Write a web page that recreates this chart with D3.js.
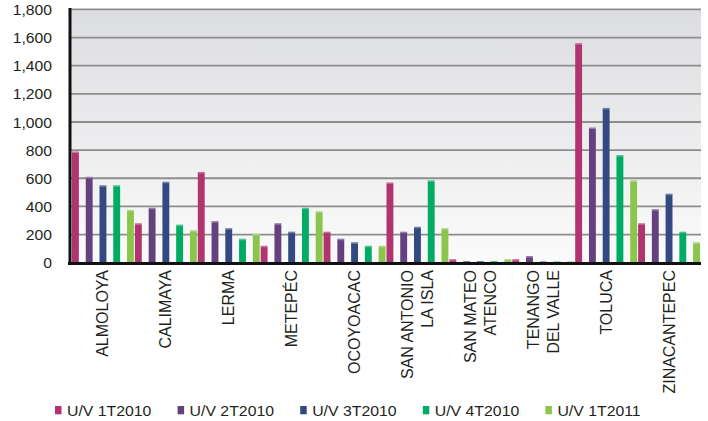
<!DOCTYPE html>
<html>
<head>
<meta charset="utf-8">
<script src="https://cdn.jsdelivr.net/npm/d3@7"></script>
<style>
  html, body { margin: 0; padding: 0; background: #fff; }
  svg { display: block; }
  text { font-family: "Liberation Sans", Arial, sans-serif; fill: #231f20; }
</style>
</head>
<body>
<svg id="chart" width="708" height="421"></svg>
<script>
// Municipalities (line breaks mark two-line labels)
const categories = [
  "ALMOLOYA", "CALIMAYA", "LERMA", "METEPÉC", "OCOYOACAC",
  "SAN ANTONIO\nLA ISLA", "SAN MATEO\nATENCO", "TENANGO\nDEL VALLE",
  "TOLUCA", "ZINACANTEPEC"
];
const seriesNames = ["U/V 1T2010", "U/V 2T2010", "U/V 3T2010", "U/V 4T2010", "U/V 1T2011"];
const seriesColors = ["#b1336f", "#65407f", "#344981", "#00ab64", "#8cc54b"];

// Values per series, one entry per municipality
const uv1T2010 = [790, 280, 645, 120, 220, 570, 25, 25, 1560, 280];
const uv2T2010 = [610, 390, 295, 280, 170, 220, 10, 47, 960, 380];
const uv3T2010 = [550, 575, 245, 220, 145, 255, 10, 8, 1100, 490];
const uv4T2010 = [550, 270, 170, 390, 120, 585, 10, 8, 765, 220];
const uv1T2011 = [375, 230, 205, 365, 120, 245, 25, 8, 585, 145];
const seriesValues = [uv1T2010, uv2T2010, uv3T2010, uv4T2010, uv1T2011];

const yTicks = [0, 200, 400, 600, 800, 1000, 1200, 1400, 1600, 1800];

const svg = d3.select("#chart");
const plot = { left: 70, right: 701, top: 9.4, bottom: 262.7 };

const x = d3.scaleBand().domain(categories).range([72, plot.right]).paddingInner(0).paddingOuter(0);
const xs = d3.scaleBand().domain(seriesNames).range([0, x.bandwidth() - 1]).paddingInner(0.5).paddingOuter(0);
const y = d3.scaleLinear().domain([0, 1800]).range([plot.bottom, plot.top]);

// widen horizontal text slightly, as in the printed chart
function stretch(sel, k) {
  sel.each(function () {
    const w = this.getComputedTextLength();
    d3.select(this).attr("textLength", w * k).attr("lengthAdjust", "spacingAndGlyphs");
  });
}

// plot background gradient
const defs = svg.append("defs");
const grad = defs.append("linearGradient").attr("id", "bg").attr("x1", 0).attr("y1", 0).attr("x2", 0).attr("y2", 1);
grad.append("stop").attr("offset", "0%").attr("stop-color", "#dcdde0");
grad.append("stop").attr("offset", "100%").attr("stop-color", "#fbfbfb");

svg.append("rect")
  .attr("x", plot.left).attr("y", plot.top)
  .attr("width", plot.right - plot.left).attr("height", plot.bottom - plot.top)
  .attr("fill", "url(#bg)");

// horizontal gridlines
svg.append("g").selectAll("line")
  .data(yTicks.filter(d => d > 0))
  .join("line")
  .attr("x1", plot.left).attr("x2", plot.right)
  .attr("y1", d => y(d)).attr("y2", d => y(d))
  .attr("stroke", "#8d8d8d").attr("stroke-width", 1.8);

// bars
const groups = svg.append("g").selectAll("g")
  .data(seriesNames)
  .join("g")
  .attr("fill", (d, i) => seriesColors[i]);

groups.each(function (name, si) {
  const g = d3.select(this);
  const rows = categories.map((c, ci) => ({ c, v: seriesValues[si][ci] }));
  g.selectAll("rect.bar")
    .data(rows)
    .join("rect")
    .attr("class", "bar")
    .attr("x", d => x(d.c) + xs(name))
    .attr("width", xs.bandwidth())
    .attr("y", d => y(d.v))
    .attr("height", d => y(0) - y(d.v));
  g.selectAll("rect.hl")
    .data(rows.filter(d => y(0) - y(d.v) > 3))
    .join("rect")
    .attr("class", "hl")
    .attr("x", d => x(d.c) + xs(name))
    .attr("width", xs.bandwidth())
    .attr("y", d => y(d.v))
    .attr("height", 1.5)
    .attr("fill", "#ffffff").attr("fill-opacity", 0.3);
});

// y axis
const yAxis = svg.append("g")
  .attr("transform", `translate(${plot.left},0)`)
  .call(d3.axisLeft(y).tickValues(yTicks).tickFormat(d3.format(",")).tickSize(0).tickPadding(18));
yAxis.select(".domain").remove();
yAxis.selectAll("text").attr("font-size", 14).attr("font-family", "Liberation Sans, Arial, sans-serif")
  .attr("fill", "#231f20").attr("dy", "0.36em");
stretch(yAxis.selectAll("text"), 1.12);

svg.append("line")
  .attr("x1", plot.left).attr("x2", plot.left)
  .attr("y1", 8).attr("y2", 265)
  .attr("stroke", "#111").attr("stroke-width", 3);
svg.append("line")
  .attr("x1", plot.left - 2).attr("x2", plot.right)
  .attr("y1", 263.4).attr("y2", 263.4)
  .attr("stroke", "#111").attr("stroke-width", 3);

// category labels, rotated
const catG = svg.append("g").selectAll("text")
  .data(categories)
  .join("text")
  .attr("font-size", 16)
  .attr("text-anchor", "end")
  .attr("transform", d => `translate(${x(d) + x.bandwidth() / 2},270) rotate(-90)`);
catG.each(function (d) {
  const lines = d.split("\n");
  const t = d3.select(this);
  lines.forEach((ln, i) => {
    t.append("tspan")
      .attr("x", 0)
      .attr("y", 5 + (i - (lines.length - 1) / 2) * 20)
      .text(ln);
  });
});

// legend
const legend = svg.append("g").selectAll("g")
  .data(seriesNames)
  .join("g")
  .attr("transform", (d, i) => `translate(${55 + i * 122.6},0)`);
legend.append("rect")
  .attr("x", 0).attr("y", 406)
  .attr("width", 6.5).attr("height", 8.3)
  .attr("fill", (d, i) => seriesColors[i]);
const legText = legend.append("text")
  .attr("x", 12).attr("y", 415.6)
  .attr("font-size", 14)
  .text(d => d);
stretch(legText, 1.13);
</script>
</body>
</html>
